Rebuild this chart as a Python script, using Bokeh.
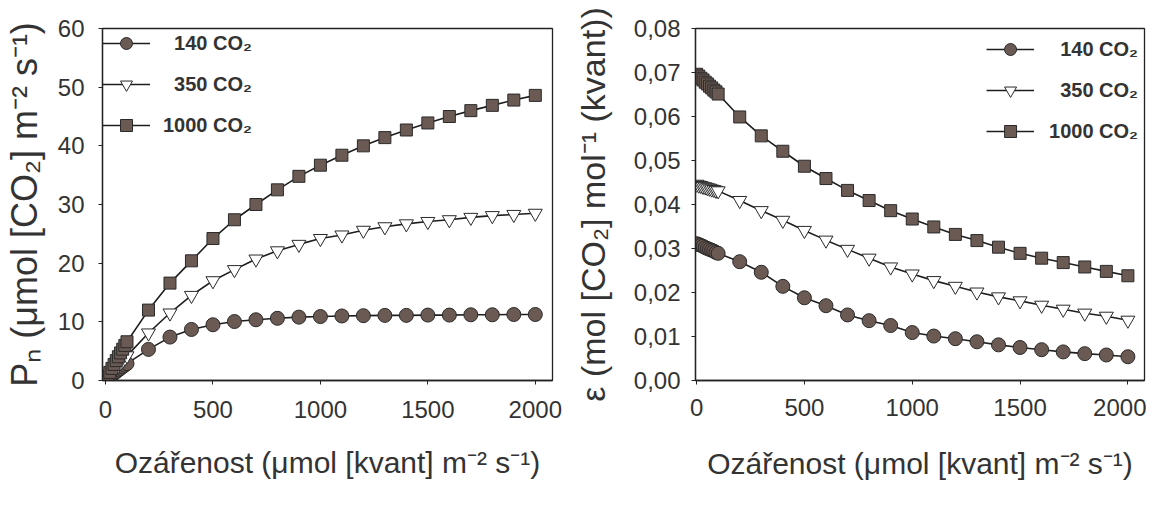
from bokeh.plotting import figure
from bokeh.layouts import row
from bokeh.models import Range1d, FixedTicker, CustomJSTickFormatter, Legend, LegendItem
from bokeh.embed import file_html
from bokeh.resources import INLINE

# ---- data ----
irradiance = [0, 10, 20, 30, 40, 50, 60, 70, 80, 90, 100,
              200, 300, 400, 500, 600, 700, 800, 900, 1000,
              1100, 1200, 1300, 1400, 1500, 1600, 1700, 1800, 1900, 2000]

pn_140 = [0, 0.31, 0.62, 0.92, 1.22, 1.51, 1.79, 2.07, 2.35, 2.62, 2.88,
          5.3, 7.4, 8.7, 9.5, 10.05, 10.35, 10.6, 10.8, 10.9,
          11.0, 11.05, 11.1, 11.1, 11.15, 11.15, 11.2, 11.2, 11.25, 11.25]
pn_350 = [0, 0.44, 0.88, 1.31, 1.74, 2.16, 2.58, 2.99, 3.39, 3.79, 4.2,
          8.1, 11.5, 14.5, 17.0, 18.9, 20.7, 22.1, 23.2, 24.2,
          24.8, 25.6, 26.2, 26.7, 27.1, 27.4, 27.8, 28.1, 28.3, 28.5]
pn_1000 = [0, 0.7, 1.38, 2.06, 2.73, 3.39, 4.05, 4.7, 5.34, 5.98, 6.6,
           12.0, 16.6, 20.4, 24.2, 27.4, 30.0, 32.5, 34.8, 36.7,
           38.4, 40.0, 41.4, 42.7, 43.9, 45.0, 46.0, 46.9, 47.8, 48.6]

eps_140 = [0.0311, 0.0309, 0.0307, 0.0305, 0.0302, 0.0300, 0.0298, 0.0296, 0.0294, 0.0291, 0.0289,
           0.0270, 0.0246, 0.0214, 0.0188, 0.0170, 0.0149, 0.0136, 0.0125, 0.0109,
           0.0101, 0.0095, 0.0088, 0.0081, 0.0075, 0.0070, 0.0065, 0.0061, 0.0058, 0.0054]
eps_350 = [0.0446, 0.0444, 0.0443, 0.0441, 0.0440, 0.0438, 0.0437, 0.0435, 0.0434, 0.0432, 0.0431,
           0.0409, 0.0386, 0.0364, 0.0341, 0.0319, 0.0298, 0.0278, 0.0258, 0.0242,
           0.0227, 0.0214, 0.0201, 0.0190, 0.0181, 0.0171, 0.0162, 0.0153, 0.0146, 0.0137]
eps_1000 = [0.0696, 0.0692, 0.0687, 0.0683, 0.0678, 0.0674, 0.0669, 0.0665, 0.0660, 0.0656, 0.0651,
            0.0599, 0.0556, 0.0521, 0.0487, 0.0459, 0.0432, 0.0409, 0.0386, 0.0367,
            0.0349, 0.0332, 0.0318, 0.0303, 0.0289, 0.0278, 0.0268, 0.0258, 0.0248, 0.0238]

series_labels = ["\u2007140 CO\u2082", "\u2007350 CO\u2082", "1000 CO\u2082"]
x_ticks = [0, 500, 1000, 1500, 2000]
pn_ticks = [0, 10, 20, 30, 40, 50, 60]
eps_ticks = [0.0, 0.01, 0.02, 0.03, 0.04, 0.05, 0.06, 0.07, 0.08]

x_title = "Ozářenost (μmol [kvant] m\u207b\u00b2 s\u207b\u00b9)"
pn_title = "P\u2099 (μmol [CO\u2082] m\u207b\u00b2 s\u207b\u00b9)"
eps_title = "ε (mol [CO\u2082] mol\u207b\u00b9 (kvant))"

# ---- style ----
FONT = "Liberation Sans"
TXT = "#333333"
AX = "#222222"
FILL = "#6b5a53"
EDGE = "#2a2a2a"
LINE = "#1e1e1e"


def style_axes(p, xl_standoff, xt_standoff, yl_standoff, yt_standoff, ytitle_size):
    p.grid.visible = False
    p.outline_line_color = AX
    p.outline_line_width = 1.3
    for ax in (p.xaxis[0], p.yaxis[0]):
        ax.axis_line_color = AX
        ax.axis_line_width = 1.3
        ax.major_tick_line_color = AX
        ax.major_tick_out = 4
        ax.major_tick_in = 0
        ax.minor_tick_out = 0
        ax.minor_tick_in = 0
        ax.major_label_text_font = FONT
        ax.major_label_text_font_size = "24px"
        ax.major_label_text_color = TXT
        ax.axis_label_text_font = FONT
        ax.axis_label_text_font_style = "normal"
        ax.axis_label_text_color = TXT
    p.xaxis[0].axis_label_text_font_size = "30px"
    p.yaxis[0].axis_label_text_font_size = ytitle_size
    p.xaxis[0].major_label_standoff = xl_standoff
    p.xaxis[0].axis_label_standoff = xt_standoff
    p.yaxis[0].major_label_standoff = yl_standoff
    p.yaxis[0].axis_label_standoff = yt_standoff
    p.xaxis[0].ticker = FixedTicker(ticks=x_ticks)


def add_series(p, ys_list):
    items = []
    markers = ["circle", "inverted_triangle", "square"]
    sizes = [14, 14, 12]
    fills = [FILL, "white", FILL]
    for ys, mk, sz, fc, lab in zip(ys_list, markers, sizes, fills, series_labels):
        lr = p.line(irradiance, ys, line_color=LINE, line_width=1.6)
        sr = p.scatter(irradiance, ys, marker=mk, size=sz, fill_color=fc,
                       line_color=EDGE, line_width=1.0)
        items.append(LegendItem(label=lab, renderers=[lr, sr]))
    return items


def make_legend(items, location, margin, standoff):
    return Legend(items=items, location=location, glyph_width=48, glyph_height=30,
                  label_height=30, spacing=11, padding=12, margin=margin,
                  label_standoff=standoff, border_line_color=None,
                  background_fill_alpha=0, label_text_font=FONT,
                  label_text_font_style="bold", label_text_font_size="20px",
                  label_text_color=TXT)


# ---- left panel ----
p1 = figure(width=567, height=497, output_backend="svg", toolbar_location=None,
            x_range=Range1d(-14, 2080), y_range=Range1d(0, 60),
            min_border_left=102, min_border_right=15, min_border_top=25, min_border_bottom=117)
p1.xaxis.axis_label = x_title
p1.yaxis.axis_label = pn_title
style_axes(p1, 16, 25, 14, 10, "36px")
p1.yaxis[0].ticker = FixedTicker(ticks=pn_ticks)
items1 = add_series(p1, [pn_140, pn_350, pn_1000])
p1.add_layout(make_legend(items1, "top_left", 0, 13))

# ---- right panel ----
p2 = figure(width=579, height=497, output_backend="svg", toolbar_location=None,
            x_range=Range1d(-5, 2077), y_range=Range1d(0, 0.08),
            min_border_left=128, min_border_right=2, min_border_top=28, min_border_bottom=111)
p2.xaxis.axis_label = x_title
p2.yaxis.axis_label = eps_title
style_axes(p2, 14, 28, 11, 19, "34px")
p2.yaxis[0].ticker = FixedTicker(ticks=eps_ticks)
p2.yaxis[0].formatter = CustomJSTickFormatter(code="return tick.toFixed(2).replace('.', ',');")
items2 = add_series(p2, [eps_140, eps_350, eps_1000])
p2.add_layout(make_legend(items2, "top_right", 6, 15))

layout = row(p1, p2)
open("out.html", "w").write(file_html(layout, INLINE))
